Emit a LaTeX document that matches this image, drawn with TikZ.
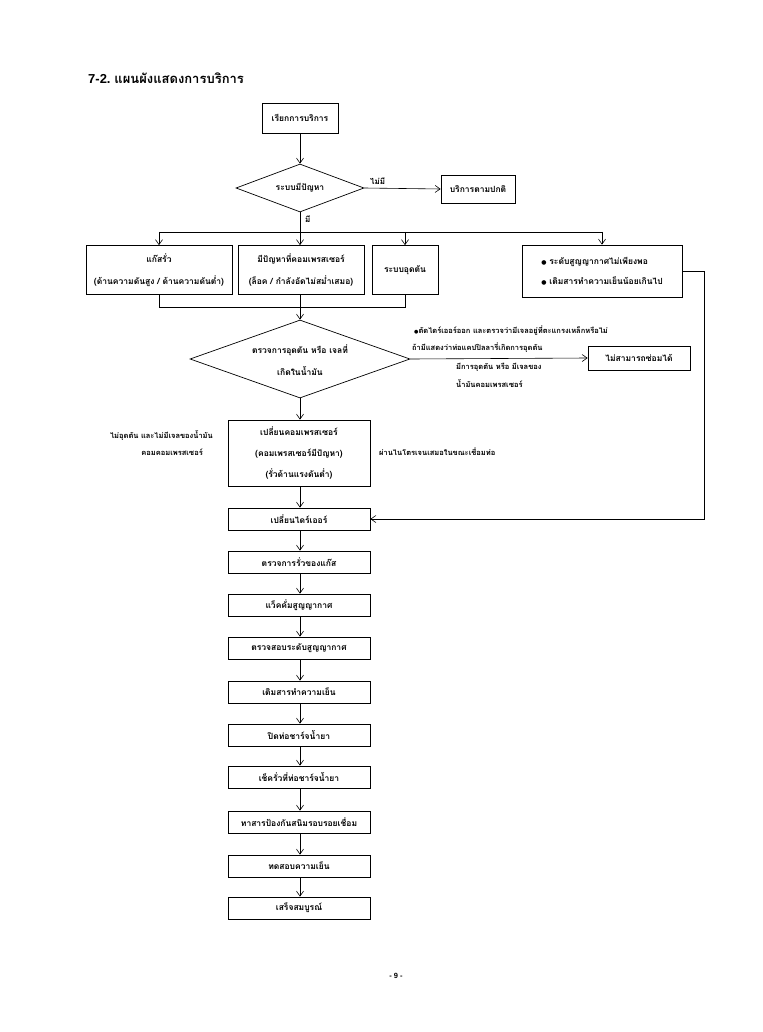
\documentclass[tikz,border=0pt]{standalone}
\usepackage{fontspec}
\newfontfamily\thaifont[Script=Thai]{Loma}
\newfontfamily\dvfont{DejaVu Sans}
\newfontfamily\arialfont{Liberation Sans}
\usetikzlibrary{arrows.meta,shapes.geometric}
\begin{document}
\begin{tikzpicture}[x=1pt,y=-1pt,
  every node/.style={font=\thaifont\bfseries\fontsize{8.5}{21}\selectfont},
  box/.style={draw, line width=0.7pt, inner sep=0pt, align=center},
  arr/.style={-{Straight Barb[length=5pt,width=7pt]}, line width=0.6pt},
  ln/.style={line width=0.6pt},
  dia/.style={draw, diamond, line width=0.7pt, inner sep=0pt},
  small/.style={font=\thaifont\bfseries\fontsize{7.5}{9}\selectfont, inner sep=1pt}
]
\useasboundingbox (0,0) rectangle (762,1032);
\fill[white] (0,0) rectangle (762,1032);

\node[anchor=base west, inner sep=0pt] (title) at (88,84) {{\arialfont\bfseries\fontsize{13}{15}\selectfont 7-2.} {\thaifont\bfseries\fontsize{13}{15}\selectfont แผนผังแสดงการบริการ}};

\node[box, minimum width=76pt, minimum height=30pt] (b1) at (300,118) {เรียกการบริการ};
\node[dia, minimum width=128pt, minimum height=48pt] (d1) at (300,188) {};
\node (d1t) at (300,188) {ระบบมีปัญหา};
\node[box, minimum width=74pt, minimum height=28pt] (normal) at (478,189) {บริการตามปกติ};

\node[box, minimum width=146pt, minimum height=49pt, font=\thaifont\bfseries\fontsize{8.5}{22}\selectfont] (leak) at (159,270) {แก๊สรั่ว\\(ด้านความดันสูง / ด้านความดันต่ำ)};
\node[box, minimum width=126pt, minimum height=49pt, font=\thaifont\bfseries\fontsize{8.5}{22}\selectfont] (comp) at (301,270) {มีปัญหาที่คอมเพรสเซอร์\\(ล็อค / กำลังอัดไม่สม่ำเสมอ)};
\node[box, minimum width=66pt, minimum height=49pt] (clog) at (405,270) {ระบบอุดตัน};
\node[box, minimum width=160pt, minimum height=52pt, align=left, font=\thaifont\bfseries\fontsize{8.5}{20}\selectfont] (right) at (602,271) {{\dvfont\fontsize{6}{8}\selectfont ●} ระดับสูญญากาศไม่เพียงพอ\\{\dvfont\fontsize{6}{8}\selectfont ●} เติมสารทำความเย็นน้อยเกินไป};

\node[dia, minimum width=220pt, minimum height=78pt] (d2) at (300,359) {};
\node[align=center, font=\thaifont\bfseries\fontsize{8.5}{22}\selectfont] (d2t) at (300,360) {ตรวจการอุดตัน หรือ เจลที่\\เกิดในน้ำมัน};
\node[box, minimum width=102pt, minimum height=24pt] (nofix) at (639,358) {ไม่สามารถซ่อมได้};

\node[box, minimum width=142pt, minimum height=66pt] (chg) at (299,453) {เปลี่ยนคอมเพรสเซอร์\\(คอมเพรสเซอร์มีปัญหา)\\(รั่วด้านแรงดันต่ำ)};
\node[box, minimum width=142pt, minimum height=22pt] (dryer) at (299,519) {เปลี่ยนไดร์เออร์};
\node[box, minimum width=142pt, minimum height=22pt] (leakchk) at (299,562) {ตรวจการรั่วของแก๊ส};
\node[box, minimum width=142pt, minimum height=22pt] (vac) at (299,605) {แว็คคั่มสูญญากาศ};
\node[box, minimum width=142pt, minimum height=22pt] (vacchk) at (299,648) {ตรวจสอบระดับสูญญากาศ};
\node[box, minimum width=142pt, minimum height=22pt] (fill) at (299,692) {เติมสารทำความเย็น};
\node[box, minimum width=142pt, minimum height=22pt] (closep) at (299,735) {ปิดท่อชาร์จน้ำยา};
\node[box, minimum width=142pt, minimum height=22pt] (chk2) at (299,777) {เช็ครั่วที่ท่อชาร์จน้ำยา};
\node[box, minimum width=142pt, minimum height=22pt] (rust) at (299,822) {ทาสารป้องกันสนิมรอบรอยเชื่อม};
\node[box, minimum width=142pt, minimum height=22pt] (test) at (299,866) {ทดสอบความเย็น};
\node[box, minimum width=142pt, minimum height=22pt] (done) at (299,908) {เสร็จสมบูรณ์};

% labels
\node[small, anchor=south west] (nolab) at (369,186) {\fontsize{8}{9}\selectfont ไม่มี};
\node[small, anchor=west] (yeslab) at (304,219) {\fontsize{8}{9}\selectfont มี};
\node[small, anchor=west] (l1) at (413,331) {{\dvfont\fontsize{5}{7}\selectfont ●}ตัดไดร์เออร์ออก และตรวจว่ามีเจลอยู่ที่ตะแกรงเหล็กหรือไม่};
\node[small, anchor=west] (l2) at (411,348) {ถ้ามีแสดงว่าท่อแคปปิลลารี่เกิดการอุดตัน};
\node[small, anchor=west] (l3) at (455,367) {มีการอุดตัน หรือ มีเจลของ};
\node[small, anchor=west] (l4) at (455,384) {น้ำมันคอมเพรสเซอร์};
\node[small, anchor=east] (l5) at (214,436) {ไม่อุดตัน และไม่มีเจลของน้ำมัน};
\node[small, anchor=east] (l6) at (204,452) {คอมคอมเพรสเซอร์};
\node[small, anchor=west] (l7) at (378,452) {ผ่านไนโตรเจนเสมอในขณะเชื่อมท่อ};
\node[font=\arialfont\bfseries\fontsize{7.5}{9}\selectfont] (pg) at (396,976) {- 9 -};

% connectors
\coordinate (split) at (300,232);
\coordinate (merge) at (300,307);
\coordinate (rt) at (704,271);
\draw[arr] (b1) -- (d1);
\draw[arr] (d1.east) -- (normal.west);
\draw[ln] (d1.south) -- (split);
\draw[ln] (leak.north |- split) -- (right.north |- split);
\draw[arr] (leak.north |- split) -- (leak.north);
\draw[arr] (split) -- (comp.north -| split);
\draw[arr] (clog.north |- split) -- (clog.north);
\draw[arr] (right.north |- split) -- (right.north);
\draw[ln] (leak.south) -- (leak.south |- merge) -- (clog.south |- merge) -- (clog.south);
\draw[ln] (comp.south -| merge) -- (merge);
\draw[arr] (merge) -- (d2.north);
\draw[arr] (d2.east) -- (nofix.west);
\draw[arr] (d2.south) -- (chg.north -| d2.south);
\draw[arr] (chg.south -| d2.south) -- (dryer.north -| d2.south);
\draw[arr] (right.east) -- (rt) |- (dryer.east);
\draw[arr] (dryer.south -| d2.south) -- (leakchk.north -| d2.south);
\draw[arr] (leakchk.south -| d2.south) -- (vac.north -| d2.south);
\draw[arr] (vac.south -| d2.south) -- (vacchk.north -| d2.south);
\draw[arr] (vacchk.south -| d2.south) -- (fill.north -| d2.south);
\draw[arr] (fill.south -| d2.south) -- (closep.north -| d2.south);
\draw[arr] (closep.south -| d2.south) -- (chk2.north -| d2.south);
\draw[arr] (chk2.south -| d2.south) -- (rust.north -| d2.south);
\draw[arr] (rust.south -| d2.south) -- (test.north -| d2.south);
\draw[arr] (test.south -| d2.south) -- (done.north -| d2.south);
\end{tikzpicture}
\end{document}
